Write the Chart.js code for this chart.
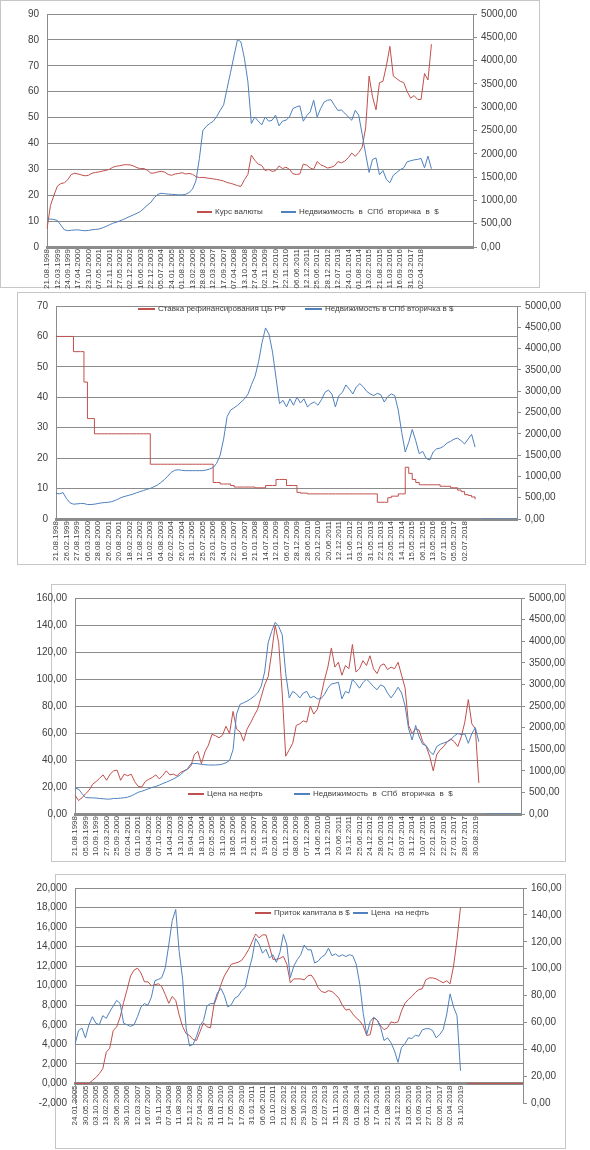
<!DOCTYPE html>
<html>
<head>
<meta charset="utf-8">
<script src="https://cdn.jsdelivr.net/npm/chart.js@4.4.1/dist/chart.umd.min.js"></script>
<style>
  body { margin: 0; background: #fff; width: 590px; height: 1150px; position: relative; overflow: hidden;
         font-family: "Liberation Sans", Arial, sans-serif; }
  .frame { position: absolute; border: 1px solid #c6c6c6; box-sizing: border-box; }
  canvas { position: absolute; left: 0; }
  .lg { position: absolute; font-size: 8px; line-height: 10px; color: #404040; white-space: pre; }
  .lgline { position: absolute; height: 2px; }
</style>
</head>
<body>
<div class="frame" style="left:0;top:0;width:540px;height:288px"></div>
<div class="frame" style="left:17px;top:292px;width:569px;height:273px"></div>
<div class="frame" style="left:51px;top:584px;width:515px;height:278px"></div>
<div class="frame" style="left:55px;top:874px;width:511px;height:275px"></div>
<canvas id="c1" width="590" height="292" style="top:0"></canvas>
<canvas id="c2" width="590" height="273" style="top:292px"></canvas>
<canvas id="c3" width="590" height="278" style="top:584px"></canvas>
<canvas id="c4" width="590" height="276" style="top:874px"></canvas>
<script>
// points per label step on the category axis
const K = 3;

// ---- chart 1: курс валюты / недвижимость
const dates1 = ['21.08.1998','12.03.1999','24.09.1999','17.04.2000','23.10.2000','07.05.2001','12.11.2001','27.05.2002',
  '02.12.2002','16.06.2003','22.12.2003','05.07.2004','24.01.2005','01.08.2005','13.02.2006','28.08.2006','12.03.2007',
  '17.09.2007','07.04.2008','13.10.2008','27.04.2009','02.11.2009','17.05.2010','22.11.2010','06.06.2011','12.12.2011',
  '25.06.2012','28.12.2012','12.07.2013','24.01.2014','01.08.2014','13.02.2015','21.08.2015','11.03.2016','16.09.2016',
  '31.03.2017','02.04.2018'];
const rate1 = [7,16,20,23.5,24.5,24.8,26,28,28.5,28.2,
  27.8,27.5,27.7,28.5,28.8,29,29.3,29.6,30,30.8,
  31.2,31.4,31.7,31.8,31.7,31.3,30.6,30.3,30.3,29.6,
  28.5,28.6,29,29.2,28.9,28,27.7,28.2,28.4,28.7,
  28.2,28.4,28.1,27.2,26.8,26.9,26.7,26.5,26.3,26.1,
  25.8,25.5,24.9,24.6,24.2,23.7,23.4,26,28,35.5,
  33.5,32,31.5,29.5,30,29.2,29.5,31.3,30.3,30.8,
  30,28.3,28,28.2,32,31.6,30.5,30,33,31.8,
  31.2,30.5,30.8,31.3,33,32.5,33.2,34.5,36.3,35,
  36.5,38.5,46,66,58,53,63.5,64,70,77.5,
  66,65,64,63.5,60,57.5,58.5,57,57,67,
  64.5,78.3];
const estate1 = [600,600,590,570,470,370,350,360,365,368,
  355,350,355,370,378,385,410,440,474,510,
  530,560,590,625,658,690,725,764,830,900,
  960,1060,1130,1153,1145,1135,1130,1125,1120,1118,
  1130,1167,1240,1420,1900,2500,2590,2650,2700,2800,
  2930,3050,3400,3750,4100,4450,4400,4050,3550,2650,
  2790,2700,2620,2790,2700,2720,2830,2600,2700,2720,
  2790,2970,3005,3030,2700,2820,2900,3150,2790,2970,
  3110,3150,3160,3040,2930,2940,2870,2790,2720,2935,
  2830,2420,2000,1600,1880,1910,1550,1640,1450,1380,
  1540,1600,1660,1700,1830,1850,1870,1880,1900,1700,
  1950,1680];

// ---- chart 2: ставка рефинансирования / недвижимость
const dates2 = ['21.08.1998','26.02.1999','27.08.1999','06.03.2000','28.08.2000','26.02.2001','20.08.2001','18.02.2002',
  '12.08.2002','10.02.2003','04.08.2003','02.02.2004','26.07.2004','31.01.2005','25.07.2005','23.01.2006','24.07.2006',
  '22.01.2007','16.07.2007','21.01.2008','14.07.2008','12.01.2009','06.07.2009','28.12.2009','28.06.2010','20.12.2010',
  '20.06.2011','12.12.2011','11.06.2012','03.12.2012','31.05.2013','22.11.2013','23.05.2014','14.11.2014','15.05.2015',
  '06.11.2015','13.05.2016','07.11.2016','05.05.2017','02.07.2018'];
const refi2 = [60,60,60,60,60,55,55,55,45,33,
  33,28,28,28,28,28,28,28,28,28,
  28,28,28,28,28,28,28,18,18,18,
  18,18,18,18,18,18,18,18,18,18,
  18,18,18,18,18,12,12,11.5,11.5,11.5,
  11,10.5,10.5,10.5,10.5,10.5,10.5,10.25,10.25,10.25,
  11,11,11,13,13,13,11,11,11,8.75,
  8.5,8.5,8.25,8.25,8.25,8.25,8.25,8.25,8.25,8.25,
  8.25,8.25,8.25,8.25,8.25,8.25,8.25,8.25,8.25,8.25,
  8.25,8.25,5.5,5.5,5.5,7,7.5,7.5,8.25,8.25,
  17,15,13,12,11.25,11.25,11.25,11.25,11.25,11.25,
  10.75,10.75,10.75,10.25,10.25,9.5,9,8,7.75,7.25,
  6.5];
const estate2 = [605,590,620,480,380,348,355,363,363,340,
  340,348,363,378,386,393,408,439,477,514,
  537,560,582,613,643,666,696,718,756,794,
  855,923,1006,1097,1142,1157,1142,1135,1135,1135,
  1135,1135,1135,1150,1172,1210,1308,1498,1876,2405,
  2557,2610,2670,2746,2821,2935,3162,3351,3691,4145,
  4485,4334,3918,3313,2708,2784,2632,2821,2670,2859,
  2723,2821,2632,2708,2746,2670,2799,2973,3026,2935,
  2632,2897,2973,3147,3048,2935,3101,3177,3101,2995,
  2935,2897,2950,2920,2746,2874,2935,2897,2557,2027,
  1573,1800,2103,1838,1535,1588,1422,1384,1573,1649,
  1664,1709,1785,1823,1876,1898,1838,1762,1876,1989,
  1687,null,0,0,0,0,0,0,0,0,
  0,0,0];

// ---- chart 3: цена на нефть / недвижимость
const dates3 = ['21.08.1998','05.03.1999','10.09.1999','27.03.2000','25.09.2000','02.04.2001','01.10.2001','08.04.2002',
  '07.10.2002','14.04.2003','13.10.2003','19.04.2004','18.10.2004','02.05.2005','31.10.2005','18.05.2006','13.11.2006',
  '21.05.2007','19.11.2007','02.06.2008','01.12.2008','08.06.2009','07.12.2009','14.06.2010','13.12.2010','20.06.2011',
  '19.12.2011','25.06.2012','24.12.2012','28.06.2013','27.12.2013','03.07.2014','31.12.2014','10.07.2015','22.01.2016',
  '22.07.2016','27.01.2017','28.07.2017','30.08.2019'];
const oil3 = [14,10,12,15,17.5,22,24,26.5,29,25,
  29.5,32,32.5,25,29.5,28.3,29.5,24,20.4,20,
  24,25.7,27,29,26,28.6,32,29,29.5,28.3,
  30.7,32,33,35.6,44,46.4,37.2,46,51,59,
  58,56.5,58.4,65,59.6,76,63,60.8,54,63,
  67.5,72.8,77.6,86.5,95.6,101.6,119.6,140,126.8,89.6,
  42.8,47.6,52.4,65.6,66.8,69,68,80,74,77.6,
  87,99,108.8,123,108.8,112.4,102.8,110,107.6,125.6,
  105.2,107.6,113.6,110,117.2,107.6,104,110,111.2,107,
  108.8,107.6,112.4,102.8,93.2,65.6,59.6,63.2,62,53.6,
  50,42.8,32,44,47.6,50,53.6,55.5,53.6,50,
  57.2,68,84.8,66.8,63.2,23];
const estate3 = [600,578,473,383,375,375,368,360,353,345,
  345,360,360,368,375,390,420,458,503,525,
  556,586,616,638,668,706,736,773,811,856,
  908,984,1044,1164,1171,1164,1149,1141,1134,1134,
  1134,1141,1156,1186,1239,1487,2312,2538,2575,2613,
  2665,2725,2800,2951,3289,3964,4227,4437,4339,4152,
  3251,2688,2838,2785,2688,2800,2838,2688,2725,2665,
  2665,2763,2913,3011,3026,3048,2665,2838,2800,3116,
  3026,2913,3041,3123,3041,2951,2876,2988,2951,2800,
  2688,2800,2936,2800,2500,1975,1712,2050,1787,1614,
  1584,1449,1374,1562,1614,1644,1674,1719,1809,1862,
  1839,1854,1637,1862,1997,1674,null,0,0,0,
  0,0,0,0,0,0,0,0];

// ---- chart 4: приток капитала / цена на нефть
const dates4 = ['24.01.2005','30.05.2005','03.10.2005','13.02.2006','26.06.2006','30.10.2006','12.03.2007','16.07.2007',
  '19.11.2007','07.04.2008','11.08.2008','15.12.2008','27.04.2009','31.08.2009','11.01.2010','17.05.2010','17.09.2010',
  '31.01.2011','06.06.2011','10.10.2011','21.02.2012','25.06.2012','29.10.2012','07.03.2013','12.07.2013','15.11.2013',
  '28.03.2014','01.08.2014','05.12.2014','17.04.2015','21.08.2015','24.12.2015','13.05.2016','16.09.2016','27.01.2017',
  '02.06.2017','02.04.2018','31.10.2019'];
const flow4 = [0,0,0,0,0,0.3,0.6,1,1.5,3.2,
  3.6,5.4,5.8,6.8,8.3,9.6,11,11.6,11.8,11.3,
  10.4,10.4,10,10.1,10.2,9.9,9.1,8.2,8.9,8.5,
  7,5.8,5.1,4.9,4.5,4.4,5.3,6.2,5.8,5.7,
  8,9,10.1,11,11.6,12.2,12.3,12.4,12.6,13.1,
  13.7,14.5,15.3,14.9,15.2,15.2,14,12.7,12.7,12.8,
  13,12.2,10.3,10.7,10.7,10.7,10.6,11,11.1,10.6,
  9.8,9.4,9.3,9.5,9.4,9.1,8.7,8,7.5,7.6,
  7.1,6.7,6.4,5.9,4.9,5,6.7,6.5,5.9,5.5,
  5.7,6.3,6.2,6.3,7.4,8.2,8.6,8.9,9.3,9.6,
  9.7,10.6,10.8,10.8,10.7,10.5,10.3,10.5,10.2,12,
  14.7,18,null,0,0,0,0,0,0,0,
  0,0,0,0,0,0,0,0,0,0];
const oil4 = [43.6,53.8,55.8,48.5,58.2,64.2,59.4,58.2,65,63,
  67.9,72.2,76.4,74,59.4,58.2,57,58.2,64.2,71.5,
  74,72.7,78.8,91,92,93.3,100.6,117.6,135.8,144,
  112.7,92,55.8,42.4,43.6,49.7,57.7,61.3,72.2,74,
  74,81.9,85.3,80,71.5,73.2,78,79.5,83.6,86,
  98.2,107.9,122.4,118.3,111.5,114.4,107.9,110.3,104.7,112,
  125.6,117.6,93.3,101.8,106.7,110.3,117.6,114,114,104.2,
  105.5,108.6,110.3,115.2,109.6,111,109,110.3,109,110.3,
  109.6,103,88.5,66.7,50.9,60.6,63.8,61.8,56.2,46.5,
  48.5,44.8,38.8,30.3,41.2,44.1,48.5,48,50.4,49.7,
  54.5,55.3,55.3,53.8,48.5,50.9,54.5,65.5,81.2,71.5,
  65,24];

Chart.defaults.font.family = '"Liberation Sans", Arial, sans-serif';
Chart.defaults.color = '#404040';
const RED = '#c0504d';
const BLUE = '#4f81bd';
const GRID = '#8c8c8c';

function comma(d) {
  return v => v.toFixed(d).replace('.', ',');
}

function buildLabels(dates, count) {
  let labels = [];
  dates.forEach(d => {
    labels.push(d);
    for (let k = 1; k < K; k++) labels.push('');
  });
  labels = labels.slice(0, count);
  while (labels.length < count) labels.push('');
  return labels;
}

function addLegend(top, y, items) {
  items.forEach(it => {
    let line = document.createElement('div');
    line.className = 'lgline';
    line.style.left = it.x + 'px';
    line.style.top = (top + y - 1) + 'px';
    line.style.width = it.w + 'px';
    line.style.background = it.color;
    document.body.appendChild(line);
    let txt = document.createElement('div');
    txt.className = 'lg';
    txt.textContent = it.label;
    txt.style.left = (it.x + it.w + 3) + 'px';
    txt.style.top = (top + y - 5) + 'px';
    document.body.appendChild(txt);
  });
}

function makeChart(p) {
  let scales = {
    x: {
      grid: { display: false, drawTicks: false },
      border: { display: true, color: GRID, width: 3 },
      ticks: { autoSkip: false, minRotation: 90, maxRotation: 90, padding: 2, font: { size: 8 } }
    },
    y: {
      position: 'left',
      min: p.left.min,
      max: p.left.max,
      grid: {
        drawTicks: false,
        color: c => (p.left.hideMin && c.tick && c.tick.value === p.left.min) ? 'rgba(0,0,0,0)' : GRID
      },
      border: { color: GRID },
      ticks: { stepSize: p.left.step, padding: 8, font: { size: 10 }, callback: p.left.fmt },
      afterFit: s => { s.width = p.left.width; }
    },
    y1: {
      position: 'right',
      min: 0,
      max: p.right.max,
      grid: { drawOnChartArea: false, tickLength: 4, color: GRID },
      border: { color: GRID },
      ticks: { stepSize: p.right.step, padding: 4, font: { size: 10 }, callback: p.right.fmt },
      afterFit: s => { s.width = p.right.width; }
    }
  };
  if (p.xAtZero) scales.x.position = { y: 0 };
  else scales.x.afterFit = s => { s.height = p.xHeight; };

  new Chart(document.getElementById(p.id), {
    type: 'line',
    data: {
      labels: buildLabels(p.dates, p.count),
      datasets: p.series.map((s, i) => ({
        label: s.label,
        data: s.data,
        yAxisID: s.axis,
        borderColor: s.color,
        borderWidth: 1,
        pointRadius: 0,
        stepped: !!s.stepped,
        order: p.series.length - i
      }))
    },
    options: {
      responsive: false,
      animation: false,
      devicePixelRatio: 1,
      layout: { padding: { top: p.padTop, bottom: p.padBottom || 0, left: 0, right: 0 } },
      plugins: { legend: { display: false }, tooltip: { enabled: false } },
      scales
    }
  });

  addLegend(p.top, p.legendY, p.series.map((s, i) => ({
    label: s.label, color: s.color, x: p.legendX[i][0], w: p.legendX[i][1]
  })));
}

makeChart({
  id: 'c1', top: 0, count: 124, dates: dates1, padTop: 11, xHeight: 45,
  left: { min: 0, max: 90, step: 10, fmt: v => String(v), width: 47 },
  right: { max: 5000, step: 500, fmt: comma(2), width: 117 },
  series: [
    { label: 'Курс валюты', data: rate1, axis: 'y', color: RED },
    { label: 'Недвижимость  в  СПб  вторичка  в  $', data: estate1, axis: 'y1', color: BLUE }
  ],
  legendY: 212, legendX: [[197, 15], [281, 15]]
});

makeChart({
  id: 'c2', top: 292, count: 133, dates: dates2, padTop: 7, xHeight: 46,
  left: { min: 0, max: 70, step: 10, fmt: v => String(v), width: 56 },
  right: { max: 5000, step: 500, fmt: comma(2), width: 73 },
  series: [
    { label: 'Ставка рефинансирования ЦБ РФ', data: refi2, axis: 'y', color: RED, stepped: true },
    { label: 'Недвижимость в СПб вторичка в $', data: estate2, axis: 'y1', color: BLUE }
  ],
  legendY: 17, legendX: [[138, 17], [305, 17]]
});

makeChart({
  id: 'c3', top: 584, count: 128, dates: dates3, padTop: 8, xHeight: 48,
  left: { min: 0, max: 160, step: 20, fmt: comma(2), width: 75 },
  right: { max: 5000, step: 500, fmt: comma(2), width: 69 },
  series: [
    { label: 'Цена на нефть', data: oil3, axis: 'y', color: RED },
    { label: 'Недвижимость  в  СПб  вторичка  в  $', data: estate3, axis: 'y1', color: BLUE }
  ],
  legendY: 210, legendX: [[188, 16], [294, 16]]
});

makeChart({
  id: 'c4', top: 874, count: 130, dates: dates4, padTop: 9, padBottom: 47, xAtZero: true,
  left: { min: -2, max: 20, step: 2, fmt: comma(3), width: 75, hideMin: true },
  right: { max: 160, step: 20, fmt: comma(2), width: 67 },
  series: [
    { label: 'Приток капитала в $', data: flow4, axis: 'y', color: RED },
    { label: 'Цена  на нефть', data: oil4, axis: 'y1', color: BLUE }
  ],
  legendY: 39, legendX: [[255, 16], [353, 15]]
});
</script>
</body>
</html>
